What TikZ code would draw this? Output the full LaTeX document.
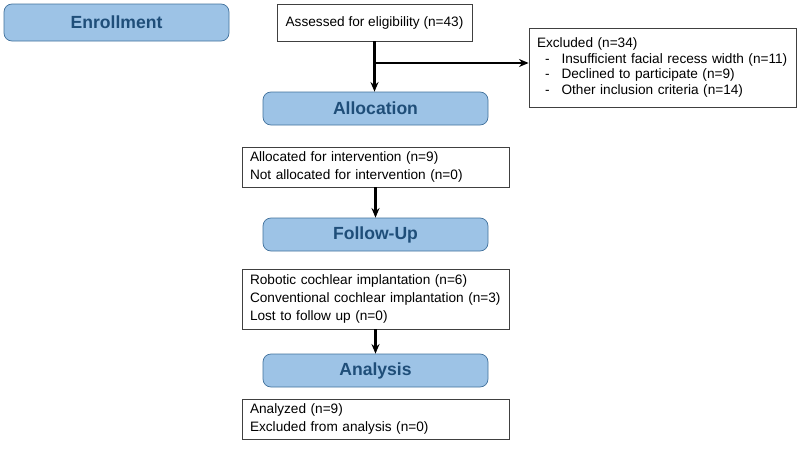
\documentclass[tikz,border=0pt]{standalone}
\usepackage{fontspec}
\setmainfont{Liberation Sans}
\usetikzlibrary{arrows.meta}
\definecolor{stagefill}{HTML}{9DC3E6}
\definecolor{stageline}{HTML}{41719C}
\definecolor{stagetext}{HTML}{1F4E79}
\definecolor{boxline}{HTML}{404040}
\begin{document}
\begin{tikzpicture}[
        stage/.style={draw=stageline, fill=stagefill, rounded corners=0.2cm, line width=0.5pt,
            minimum width=5.625cm, text=stagetext, font={\fontsize{12.5}{14}\selectfont\bfseries}},
        infobox/.style={draw=boxline, line width=0.6pt, align=left, inner xsep=0.2cm,
            font={\fontsize{9.7}{12.8}\selectfont}},
        flow/.style={line width=1.6pt, -{Stealth[length=2.4mm, width=2mm]}}
    ]
    \useasboundingbox (0,0) rectangle (20,-11.225);
    % left column
    \node[stage, minimum height=0.925cm] (enrol) at (2.9125,-0.5625) {Enrollment};
    % main column
    \node[infobox, minimum width=4.875cm, minimum height=0.925cm] (assess) at (9.3625,-0.5625)
        {Assessed for eligibility (n=43)};
    \node[infobox, text width=6.275cm, minimum height=1.975cm,
        font={\fontsize{9.7}{11.3}\selectfont}] (excl) at (16.5625,-1.6875)
        {Excluded (n=34)\\
         \hspace*{0.2cm}-\hspace{0.3cm}Insufficient facial recess width (n=11)\\
         \hspace*{0.2cm}-\hspace{0.3cm}Declined to participate (n=9)\\
         \hspace*{0.2cm}-\hspace{0.3cm}Other inclusion criteria (n=14)};
    \node[stage, minimum height=0.825cm] (alloc) at (9.3875,-2.7125) {Allocation};
    \node[infobox, text width=6.275cm, minimum height=1.0cm] (allocd) at (9.3875,-4.175)
        {Allocated for intervention (n=9)\\
         Not allocated for intervention (n=0)};
    \node[stage, minimum height=0.825cm] (follow) at (9.3875,-5.8625) {Follow-Up};
    \node[infobox, text width=6.275cm, minimum height=1.5cm] (implant) at (9.3875,-7.475)
        {Robotic cochlear implantation (n=6)\\
         Conventional cochlear implantation (n=3)\\
         Lost to follow up (n=0)};
    \node[stage, minimum height=0.825cm] (analys) at (9.3875,-9.2625) {Analysis};
    \node[infobox, text width=6.275cm, minimum height=1.0cm] (analyzed) at (9.3875,-10.475)
        {Analyzed (n=9)\\
         Excluded from analysis (n=0)};
    % arrows
    \coordinate (split) at (9.3625,-1.575);
    \draw[flow] (assess.south) -- (assess.south |- alloc.north);
    \draw[flow] (split) -- (excl.west |- split);
    \draw[flow] (allocd.south) -- (follow.north);
    \draw[flow] (implant.south) -- (analys.north);
\end{tikzpicture}
\end{document}
